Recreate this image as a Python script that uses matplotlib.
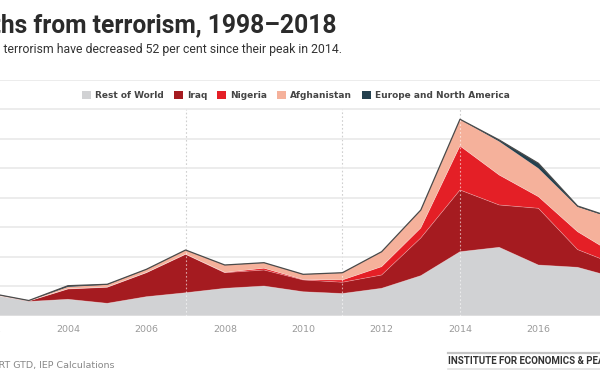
import matplotlib
matplotlib.use("Agg")
import matplotlib.pyplot as plt
from matplotlib.patches import Patch
from matplotlib.lines import Line2D
import numpy as np

years = [2002, 2003, 2004, 2005, 2006, 2007, 2008, 2009, 2010,
         2011, 2012, 2013, 2014, 2015, 2016, 2017, 2018]
rest_of_world = [3550, 2380, 2750, 2070, 3190, 3860, 4610, 5000, 4030,
                 3730, 4610, 6750, 10810, 11560, 8560, 8170, 6350]
iraq = [20, 60, 1740, 2710, 4060, 6510, 2640, 2710, 1990,
        1900, 2250, 6390, 10460, 7170, 9610, 3000, 2200]
nigeria = [20, 10, 30, 30, 20, 20, 60, 300, 80,
           390, 1410, 1690, 7460, 5080, 1970, 3030, 1630]
afghanistan = [150, 60, 330, 400, 530, 690, 1230, 920, 860,
               1210, 2520, 3030, 4500, 5690, 4810, 4210, 6070]
europe_na = [60, 30, 200, 80, 30, 20, 20, 20, 20,
             20, 20, 20, 30, 250, 850, 150, 100]

series_names = ["Rest of World", "Iraq", "Nigeria", "Afghanistan",
                "Europe and North America"]
colors = ["#d1d2d4", "#a51b20", "#e41f26", "#f5b19b", "#24404e"]
event_years = [2007, 2011, 2014]
tick_years = [2002, 2004, 2006, 2008, 2010, 2012, 2014, 2016]

W, H = 600, 380
fig = plt.figure(figsize=(6, 3.8), dpi=100)

# the reference is a crop: the plot runs off both side edges
px0, ppy = 68 - 6 * 39.2, 39.2          # pixel x of 1998, px per year
y0, y40 = 315.5, 79.5                   # pixel y of 0 and 40,000
ax = fig.add_axes([px0 / W, 1 - y0 / H, 20 * ppy / W, (y0 - y40) / H])

yrs = np.array(years)
stack = [rest_of_world, iraq, nigeria, afghanistan, europe_na]
ax.stackplot(yrs, *stack, colors=colors, edgecolor="none", zorder=2)
cum = np.cumsum(np.array(stack, dtype=float), axis=0)
for i in range(1, 4):
    ax.plot(yrs, cum[i - 1], color="white", lw=0.5, alpha=0.35, zorder=3)
total = cum[-1]
ax.plot(yrs, total, color="#4a4a4a", lw=0.9, zorder=4)

for ey in event_years:
    t = total[years.index(ey)]
    ax.plot([ey, ey], [t, 35000], color="#cfcfcf", lw=0.8, ls=(0, (1.5, 2)), zorder=1)
    ax.plot([ey, ey], [0, t], color="white", lw=0.8, alpha=0.6, ls=(0, (1.5, 2)), zorder=5)

ax.set_xlim(1998, 2018)
ax.set_ylim(0, 40000)
ax.set_yticks(range(0, 40001, 5000))
ax.set_yticklabels([])
ax.set_xticks(tick_years)
ax.tick_params(axis="x", length=0, pad=7, labelsize=6.8, labelcolor="#9a9a9a")
ax.tick_params(axis="y", length=0)
ax.grid(axis="y", color="#e9e9e9", lw=1.2, zorder=0)
for s in ax.spines.values():
    s.set_visible(False)

handles = [Patch(facecolor=c, edgecolor="none") for c in colors]
leg = ax.legend(handles, series_names, ncol=5, loc="center",
                bbox_to_anchor=(296 / W, 1 - 95.5 / H), bbox_transform=fig.transFigure,
                frameon=False, handlelength=1.0, handleheight=1.0,
                handletextpad=0.45, columnspacing=1.1,
                prop=dict(size=6.5, weight="bold"))
for t in leg.get_texts():
    t.set_color("#454545")

fig.text(336 / W, 1 - 25 / H, "Deaths from terrorism, 1998\u20132018",
         ha="right", va="center", fontsize=17.7, weight="bold", color="#2b2b2b",
         family="Roboto")
fig.text(342 / W, 1 - 49 / H,
         "Deaths from terrorism have decreased 52 per cent since their peak in 2014.",
         ha="right", va="center", fontsize=8.8, color="#333333", family="Roboto")

fig.text(115 / W, 1 - 365 / H,
         "Source: Dragonfly TerrorismTracker, START GTD, IEP Calculations",
         ha="right", va="center", fontsize=6.8, color="#888888")
fig.text(448 / W, 1 - 360.5 / H, "INSTITUTE FOR ECONOMICS & PEACE",
         ha="left", va="center", fontsize=7.0, weight="bold", color="#333333",
         family="Roboto")
fig.add_artist(Line2D([448 / W, 1.0], [1 - 352.5 / H] * 2, color="#c4c4c4", lw=1.6))
fig.add_artist(Line2D([448 / W, 1.0], [1 - 369 / H] * 2, color="#e2e2e2", lw=1.2))

fig.savefig("out.png", dpi=100)
